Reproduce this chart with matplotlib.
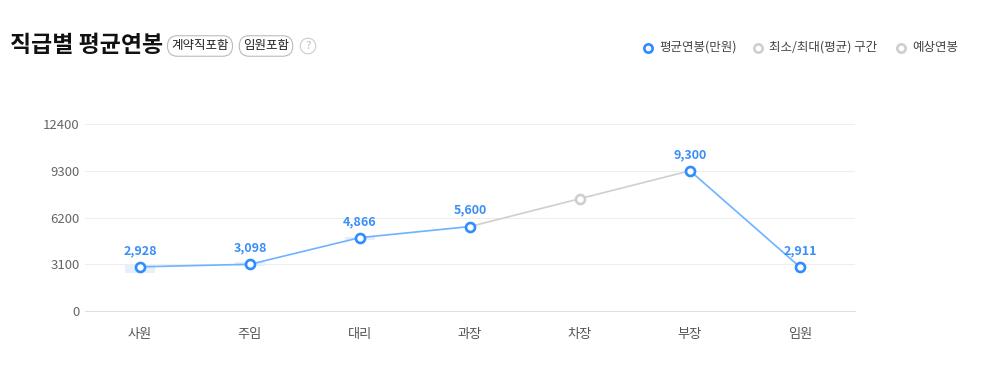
import numpy as np
import matplotlib
matplotlib.use("Agg")
from matplotlib import pyplot as plt

plt.rcParams['font.family'] = ['Noto Sans CJK KR', 'DejaVu Sans']

# data
ranks = ["사원", "주임", "대리", "과장", "차장", "부장", "임원"]
avg_pay = [2928, 3098, 4866, 5600, 7450, 9300, 2911]
is_estimate = [False, False, False, False, True, False, False]
range_low = [2550, 3000, 4700, None, None, None, None]
range_high = [3050, 3250, 4900, None, None, None, None]
yticks = [0, 3100, 6200, 9300, 12400]

blue = "#2f8cff"
blue_line = "#6db3ff"
gray = "#cfcfcf"
label_blue = "#3a8ef6"

fig = plt.figure(figsize=(9.93, 3.71), dpi=100)
ax = fig.add_axes([85 / 993, 60 / 371, 770 / 993, 187 / 371])

x = np.arange(len(ranks))

# min/max band
for i in range(len(ranks)):
    if range_low[i] is not None:
        ax.bar(x[i], range_high[i] - range_low[i], bottom=range_low[i], width=0.27,
               color="#e6effb", zorder=1)

# line segments: gray where one end is an estimate
for i in range(len(ranks) - 1):
    c = gray if (is_estimate[i] or is_estimate[i + 1]) else blue_line
    ax.plot(x[i:i + 2], avg_pay[i:i + 2], color=c, lw=1.2, zorder=2)

for i in range(len(ranks)):
    ec = gray if is_estimate[i] else blue
    ax.plot(x[i], avg_pay[i], "o", ms=6.5, mfc="white", mec=ec, mew=1.9, zorder=3)
    if not is_estimate[i]:
        ax.annotate(f"{avg_pay[i]:,}", (x[i], avg_pay[i]), xytext=(0, 7),
                    textcoords="offset points", ha="center", va="bottom",
                    fontsize=9, fontweight="bold", color=label_blue, zorder=4)

ax.set_xlim(-0.5, len(ranks) - 0.5)
ax.set_ylim(0, 12400)
ax.set_yticks(yticks)
ax.set_yticklabels([str(v) for v in yticks])
ax.set_xticks(x)
ax.set_xticklabels(ranks)
ax.grid(axis="y", color="#eeeeee", lw=0.8)
ax.set_axisbelow(True)
for s in ["left", "right", "top"]:
    ax.spines[s].set_visible(False)
ax.spines["bottom"].set_color("#e0e0e0")
ax.tick_params(axis="both", length=0, labelsize=9.5, colors="#555555")
ax.tick_params(axis="x", pad=12)
ax.tick_params(axis="y", pad=4)
for t in ax.get_yticklabels():
    t.set_color("#666666")

# title and badges
fig.text(10 / 993, 1 - 45 / 371, "직급별 평균연봉", fontsize=16.5, fontweight="bold",
         va="center", ha="left", color="#111111")
for txt, xc in [("계약직포함", 200), ("임원포함", 266)]:
    fig.text(xc / 993, 1 - 46 / 371, txt, fontsize=9, ha="center", va="center",
             color="#222222",
             bbox=dict(boxstyle="round,pad=0.3,rounding_size=0.8", fc="white",
                       ec="#bbbbbb", lw=0.8))
fig.text(308 / 993, 1 - 46 / 371, "?", fontsize=8, ha="center", va="center",
         color="#bbbbbb",
         bbox=dict(boxstyle="circle,pad=0.25", fc="white", ec="#cccccc", lw=0.8))

# legend
legend_items = [("평균연봉(만원)", blue, 648), ("최소/최대(평균) 구간", gray, 758),
                ("예상연봉", gray, 901)]
for txt, c, lx in legend_items:
    fig.lines.append(plt.Line2D([lx / 993], [1 - 48 / 371], marker="o", ms=6,
                                mfc="white", mec=c, mew=1.9, transform=fig.transFigure))
    fig.text((lx + 11) / 993, 1 - 47 / 371, txt, fontsize=9, ha="left",
             va="center", color="#444444")

fig.savefig("out.png", dpi=100)
